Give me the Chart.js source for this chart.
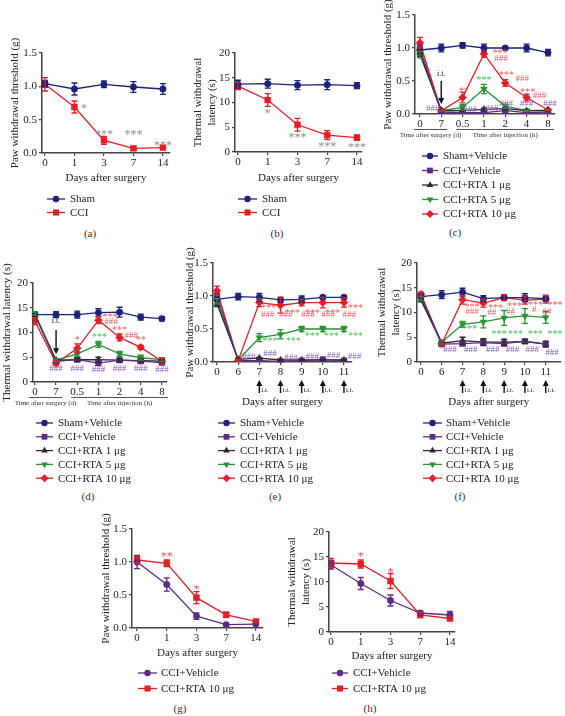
<!DOCTYPE html>
<html>
<head>
<meta charset="utf-8">
<script src="https://cdn.jsdelivr.net/npm/chart.js@4.4.0/dist/chart.umd.min.js"></script>
<style>
body { margin: 0; background: #fff; width: 565px; height: 716px; position: relative; overflow: hidden; font-family: 'Liberation Serif', serif; }
canvas { position: absolute; }
.cap { position: absolute; font-size: 11px; color: #333; transform: translate(-50%, -50%); }
</style>
</head>
<body>
<div class="cap" style="left:90px;top:233px">(a)</div>
<div class="cap" style="left:277px;top:233px">(b)</div>
<div class="cap" style="left:455px;top:232px">(c)</div>
<div class="cap" style="left:88px;top:496px">(d)</div>
<div class="cap" style="left:275px;top:496px">(e)</div>
<div class="cap" style="left:460px;top:496px">(f)</div>
<div class="cap" style="left:180px;top:708px">(g)</div>
<div class="cap" style="left:370px;top:708px">(h)</div>
<script>
// ---- Datos (a, b): Sham vs CCI ----
const daysAB = ['0', '1', '3', '7', '14'];
const shamPWT = [1.04, 0.96, 1.03, 0.99, 0.96];
const shamPWTErr = [0.05, 0.09, 0.05, 0.08, 0.08];
const cciPWT = [1.03, 0.69, 0.19, 0.07, 0.08];
const cciPWTErr = [0.10, 0.09, 0.06, 0.02, 0.02];
const shamTWL = [13.7, 13.8, 13.5, 13.6, 13.4];
const shamTWLErr = [0.8, 0.9, 0.9, 1.0, 0.6];
const cciTWL = [13.3, 10.5, 5.5, 3.4, 2.9];
const cciTWLErr = [0.7, 1.3, 1.3, 0.9, 0.5];

// ---- Datos (c, d): dosis única ----
const timesCD = ['0', '7', '0.5', '1', '2', '4', '8'];
const cSham = [0.97, 1.00, 1.04, 1.00, 1.00, 1.00, 0.93];
const cShamErr = [0.03, 0.06, 0.04, 0.06, 0.01, 0.06, 0.05];
const cCci = [1.00, 0.03, 0.02, 0.02, 0.05, 0.02, 0.03];
const cCciErr = [0.05, 0.01, 0.01, 0.01, 0.02, 0.01, 0.01];
const cRta1 = [0.92, 0.05, 0.05, 0.07, 0.08, 0.05, 0.05];
const cRta1Err = [0.05, 0.01, 0.01, 0.02, 0.02, 0.01, 0.01];
const cRta5 = [0.90, 0.05, 0.10, 0.38, 0.12, 0.05, 0.06];
const cRta5Err = [0.05, 0.01, 0.04, 0.07, 0.03, 0.01, 0.01];
const cRta10 = [1.08, 0.05, 0.25, 0.91, 0.47, 0.25, 0.06];
const cRta10Err = [0.08, 0.01, 0.08, 0.05, 0.05, 0.05, 0.01];

const dSham = [13.6, 13.6, 13.6, 14.0, 14.1, 13.1, 12.8];
const dShamErr = [0.4, 0.6, 0.7, 0.8, 1.0, 0.6, 0.4];
const dCci = [13.6, 4.2, 4.5, 3.8, 4.4, 4.2, 3.9];
const dCciErr = [0.3, 0.3, 0.3, 0.4, 0.3, 0.3, 0.3];
const dRta1 = [13.5, 4.4, 4.5, 4.5, 4.4, 4.3, 4.2];
const dRta1Err = [0.3, 0.3, 0.3, 0.5, 0.3, 0.3, 0.3];
const dRta5 = [13.8, 4.4, 5.7, 7.6, 5.7, 4.9, 4.5];
const dRta5Err = [0.3, 0.3, 0.5, 0.6, 0.5, 0.5, 0.4];
const dRta10 = [12.3, 3.8, 6.8, 12.5, 9.0, 7.0, 4.2];
const dRta10Err = [0.7, 0.5, 0.9, 0.7, 0.7, 0.4, 0.6];

// ---- Datos (e, f): dosis repetidas ----
const daysEF = ['0', '6', '7', '8', '9', '10', '11'];
const eSham = [0.95, 0.99, 0.98, 0.94, 0.95, 0.98, 0.98];
const eShamErr = [0.02, 0.05, 0.06, 0.04, 0.05, 0.02, 0.02];
const eCci = [1.00, 0.02, 0.02, 0.01, 0.02, 0.04, 0.02];
const eCciErr = [0.04, 0.01, 0.01, 0.01, 0.01, 0.01, 0.01];
const eRta1 = [0.88, 0.04, 0.06, 0.03, 0.03, 0.03, 0.03];
const eRta1Err = [0.04, 0.01, 0.01, 0.01, 0.01, 0.01, 0.01];
const eRta5 = [0.92, 0.03, 0.37, 0.42, 0.50, 0.50, 0.50];
const eRta5Err = [0.04, 0.01, 0.06, 0.07, 0.04, 0.04, 0.04];
const eRta10 = [1.08, 0.02, 0.90, 0.86, 0.90, 0.90, 0.90];
const eRta10Err = [0.07, 0.01, 0.06, 0.12, 0.05, 0.08, 0.07];

const fSham = [13.2, 13.6, 14.1, 12.8, 13.0, 13.0, 12.8];
const fShamErr = [0.3, 0.8, 0.8, 0.6, 0.5, 0.8, 0.5];
const fCci = [13.5, 3.6, 3.7, 3.9, 3.7, 4.2, 3.6];
const fCciErr = [0.3, 0.4, 0.4, 0.5, 0.4, 0.3, 0.4];
const fRta1 = [12.5, 3.8, 4.3, 4.0, 4.0, 4.1, 3.6];
const fRta1Err = [0.3, 0.4, 0.7, 0.7, 0.6, 0.4, 0.6];
const fRta5 = [12.8, 4.0, 7.6, 8.1, 8.9, 9.3, 9.0];
const fRta5Err = [0.4, 0.4, 0.6, 1.2, 1.5, 1.5, 1.2];
const fRta10 = [13.7, 3.7, 12.6, 11.9, 13.0, 12.5, 12.7];
const fRta10Err = [0.4, 0.5, 0.9, 0.8, 0.6, 0.8, 0.8];

// ---- Datos (g, h): pretratamiento ----
const gCci = [1.00, 0.66, 0.18, 0.05, 0.06];
const gCciErr = [0.10, 0.10, 0.05, 0.01, 0.01];
const gRta10 = [1.03, 0.98, 0.46, 0.20, 0.10];
const gRta10Err = [0.05, 0.05, 0.09, 0.04, 0.02];
const hCci = [13.4, 9.7, 6.3, 3.8, 3.4];
const hCciErr = [0.8, 1.2, 1.1, 0.4, 0.7];
const hRta10 = [13.8, 13.6, 10.2, 3.4, 2.7];
const hRta10Err = [0.9, 0.8, 1.5, 0.5, 0.3];

// ---- Anotaciones de significancia [x (índice), y (valor), texto] ----
const notesA = [[1.32, 0.70, '*'], [2.0, 0.31, '***'], [3.0, 0.31, '***'], [4.0, 0.15, '***']];
const notesB = [[1.0, 8.3, '*'], [2.0, 3.3, '***'], [3.0, 1.6, '***'], [4.0, 1.3, '***']];
const notesCRed = [[2.05, 0.38, '**'], [3.75, 0.95, '***'], [3.8, 0.84, '###'], [4.05, 0.62, '***'], [4.8, 0.53, '###'], [5.05, 0.36, '***'], [5.6, 0.28, '###']];
const notesCGreen = [[3.0, 0.55, '***']];
const notesCPurple = [[0.6, 0.08, '###'], [2.35, 0.07, '###'], [3.35, 0.08, '###'], [4.05, 0.16, '###'], [5.0, 0.15, '###'], [6.1, 0.15, '###']];
const notesDRed = [[2.0, 8.8, '*'], [3.55, 13.4, '***'], [3.6, 12.1, '###'], [4.0, 10.9, '***'], [4.55, 9.3, '###'], [5.0, 8.9, '**']];
const notesDGreen = [[3.05, 9.5, '***']];
const notesDPurple = [[1, 2.6, '###'], [2, 2.6, '###'], [3, 2.4, '###'], [4, 2.6, '###'], [5, 2.6, '###'], [6, 2.4, '###']];
const notesERed = [[2.45, 0.85, '***'], [3.55, 0.77, '***'], [4.5, 0.77, '***'], [5.45, 0.77, '***'], [6.55, 0.85, '***'],
                   [2.4, 0.72, '###'], [3.25, 0.72, '###'], [4.3, 0.72, '###'], [5.25, 0.72, '###'], [6.25, 0.72, '###']];
const notesEGreen = [[2.5, 0.34, '***'], [3.6, 0.34, '***'], [4.5, 0.42, '***'], [5.4, 0.42, '***'], [6.55, 0.42, '***']];
const notesEPurple = [[1.5, 0.08, '###'], [2.5, 0.12, '###'], [3.5, 0.07, '###'], [4.5, 0.08, '###'], [5.5, 0.1, '###'], [6.5, 0.08, '###']];
const notesFRed = [[2.45, 11.4, '***'], [2.45, 10.1, '###'], [3.6, 11.2, '***'], [3.4, 9.9, '##'], [4.5, 11.6, '***'], [4.3, 10.1, '##'],
                   [5.5, 11.8, '***'], [5.45, 10.5, '#'], [6.45, 11.8, '***'], [6.05, 10.1, '##']];
const notesFGreen = [[2.35, 7.1, '***'], [3.75, 6.1, '***'], [4.55, 6.1, '***'], [5.5, 6.1, '***'], [6.45, 6.1, '***']];
const notesFPurple = [[1.4, 2.4, '###'], [2.4, 2.4, '###'], [3.45, 2.4, '###'], [4.4, 2.4, '###'], [5.35, 2.4, '###'], [6.3, 1.8, '###']];
const notesG = [[1, 1.12, '**'], [2, 0.62, '*']];
const notesH = [[1, 15.6, '*'], [2, 12.4, '*']];

// ---- Colores ----
const NAVY = '#1b237a', RED = '#e41e26', PURPLE = '#5e2b84', DARK = '#2b2b2b', GREEN = '#2a9134';
const GRAY_N = '#8c8c8c', RED_N = '#f0555b', GREEN_N = '#45bf52', PURPLE_N = '#8a58bd';

Chart.defaults.font.family = "'Liberation Serif', 'Times New Roman', serif";
Chart.defaults.color = '#222';

const panelOf = new WeakMap();

function drawMarker(ctx, style, x, y, r, rot) {
    ctx.beginPath();
    if (style === 'circle') ctx.arc(x, y, r, 0, Math.PI * 2);
    else if (style === 'rect') ctx.rect(x - r * 0.72, y - r * 0.72, r * 1.44, r * 1.44);
    else if (style === 'rectRot') { ctx.moveTo(x, y - r); ctx.lineTo(x + r, y); ctx.lineTo(x, y + r); ctx.lineTo(x - r, y); ctx.closePath(); }
    else {
        const s = rot ? -1 : 1;
        ctx.moveTo(x, y - s * r); ctx.lineTo(x + r * 0.87, y + s * r * 0.5); ctx.lineTo(x - r * 0.87, y + s * r * 0.5); ctx.closePath();
    }
    ctx.fill();
}

function arrow(ctx, x, y1, y2) {
    // flecha de y1 a y2 (punta en y2)
    const d = y2 > y1 ? 1 : -1;
    ctx.beginPath(); ctx.moveTo(x, y1); ctx.lineTo(x, y2 - d * 4); ctx.stroke();
    ctx.beginPath(); ctx.moveTo(x, y2); ctx.lineTo(x - 3, y2 - d * 6); ctx.lineTo(x + 3, y2 - d * 6); ctx.closePath(); ctx.fill();
}

const extras = {
    id: 'extras',
    afterDatasetsDraw(chart) {
        const ctx = chart.ctx, xs = chart.scales.x, ys = chart.scales.y;
        // Barras de error
        chart.data.datasets.forEach(ds => {
            ctx.save();
            ctx.strokeStyle = ds.borderColor; ctx.lineWidth = 1.3;
            ds.data.forEach((p, i) => {
                const e = ds.errs[i];
                const x = xs.getPixelForValue(p.x);
                const y1 = ys.getPixelForValue(p.y - e), y2 = ys.getPixelForValue(p.y + e);
                ctx.beginPath();
                ctx.moveTo(x, y1); ctx.lineTo(x, y2);
                ctx.moveTo(x - 3, y1); ctx.lineTo(x + 3, y1);
                ctx.moveTo(x - 3, y2); ctx.lineTo(x + 3, y2);
                ctx.stroke();
            });
            ctx.restore();
        });
    },
    afterDraw(chart) {
        const p = panelOf.get(chart.canvas);
        const ctx = chart.ctx, xs = chart.scales.x, ys = chart.scales.y, area = chart.chartArea;
        ctx.save();
        // Asteriscos y almohadillas
        ctx.textAlign = 'center'; ctx.textBaseline = 'middle';
        (p.notes || []).forEach(g => {
            ctx.fillStyle = g.color;
            g.items.forEach(n => {
                const star = n[2].includes('*');
                const size = star ? (p.starSize || 10) : 9;
                ctx.font = size + "px 'Liberation Serif'";
                // el asterisco está elevado en la fuente: se baja un poco
                const dy = star ? size * 0.22 : 0;
                ctx.fillText(n[2], xs.getPixelForValue(n[0]), ys.getPixelForValue(n[1]) + dy);
            });
        });
        // Flecha i.t. dentro del gráfico
        ctx.fillStyle = '#111'; ctx.strokeStyle = '#111'; ctx.lineWidth = 1.4;
        if (p.itTop) {
            const x = xs.getPixelForValue(p.itTop[0]);
            arrow(ctx, x, ys.getPixelForValue(p.itTop[1]), ys.getPixelForValue(p.itTop[2]));
            ctx.font = "8px 'Liberation Serif'";
            ctx.fillText('i.t.', x, ys.getPixelForValue(p.itTop[3]));
        }
        // Flechas i.t. debajo del eje
        if (p.itBelow) {
            ctx.font = "7px 'Liberation Serif'"; ctx.textAlign = 'left';
            p.itBelow.forEach(i => {
                const x = xs.getPixelForValue(i);
                arrow(ctx, x, area.bottom + 31, area.bottom + 18);
                ctx.fillText('i.t.', x + 2, area.bottom + 28);
            });
        }
        // Grupos de tiempo bajo el eje x
        if (p.groups) {
            ctx.font = "7px 'Liberation Serif'"; ctx.textAlign = 'center';
            ctx.fillStyle = '#333'; ctx.strokeStyle = '#555'; ctx.lineWidth = 1;
            p.groups.forEach(g => {
                const x1 = xs.getPixelForValue(g[0]) - 6, x2 = xs.getPixelForValue(g[1]) + 6;
                ctx.beginPath(); ctx.moveTo(x1, area.bottom + 15.5); ctx.lineTo(x2, area.bottom + 15.5); ctx.stroke();
                ctx.fillText(g[2], (x1 + x2) / 2, area.bottom + 21);
            });
        }
        // Leyenda
        const lg = p.legend;
        ctx.font = "11px 'Liberation Serif'"; ctx.textAlign = 'left'; ctx.textBaseline = 'middle';
        chart.data.datasets.forEach((ds, i) => {
            const y = lg.y - p.box.y + i * lg.dy;
            const x1 = lg.x1 - p.box.x, x2 = lg.x2 - p.box.x;
            ctx.strokeStyle = ds.borderColor; ctx.fillStyle = ds.borderColor; ctx.lineWidth = 1.3;
            ctx.beginPath(); ctx.moveTo(x1, y); ctx.lineTo(x2, y); ctx.stroke();
            drawMarker(ctx, ds.pointStyle, (x1 + x2) / 2, y, ds.pointRadius, ds.pointRotation);
            ctx.fillStyle = '#222';
            ctx.fillText(ds.label, lg.tx - p.box.x, y + 0.5);
        });
        ctx.restore();
    }
};
Chart.register(extras);

function serie(label, vals, errs, color, marker, r, rot) {
    return { label, vals, errs, color, marker, r, rot: rot || 0 };
}

function buildPanel(p) {
    const cv = document.createElement('canvas');
    cv.width = p.box.w; cv.height = p.box.h;
    cv.style.left = p.box.x + 'px'; cv.style.top = p.box.y + 'px';
    document.body.appendChild(cv);
    panelOf.set(cv, p);

    const lh = 14;
    const padL = p.yTitleX - p.box.x - lh / 2;
    const yW = p.area.l - p.box.x - padL;
    const xH = p.xTitle ? p.xTitleY - p.area.b + 6.6 : 26;
    const padB = p.box.y + p.box.h - p.area.b - xH;

    const axisGrid = { drawOnChartArea: false, tickLength: 3, color: '#444', lineWidth: 1.2 };
    const axisBorder = { color: '#444', width: 1.5 };

    new Chart(cv, {
        type: 'line',
        data: {
            datasets: p.series.map(s => ({
                label: s.label,
                data: s.vals.map((v, i) => ({ x: i, y: v })),
                errs: s.errs,
                borderColor: s.color,
                backgroundColor: s.color,
                borderWidth: 1.3,
                pointStyle: s.marker,
                pointRadius: s.r,
                pointRotation: s.rot,
                pointBorderWidth: 0.5,
                tension: 0
            }))
        },
        options: {
            responsive: false,
            animation: false,
            devicePixelRatio: 1,
            layout: { padding: { left: padL, top: p.area.t - p.box.y, right: p.box.x + p.box.w - p.area.r, bottom: padB } },
            plugins: { legend: { display: false }, tooltip: { enabled: false } },
            scales: {
                x: {
                    type: 'linear', min: p.xMin, max: p.xMax,
                    afterFit: s => { s.height = xH; },
                    ticks: {
                        stepSize: 1, autoSkip: false, maxRotation: 0, includeBounds: false, padding: 1,
                        font: { size: 11 }, color: '#222',
                        callback: v => p.labels[v] ?? ''
                    },
                    grid: axisGrid, border: axisBorder,
                    title: { display: !!p.xTitle, text: p.xTitle, font: { size: 11 }, color: '#222', padding: 0 }
                },
                y: {
                    min: 0, max: p.yMax,
                    afterFit: s => { s.width = yW; },
                    ticks: {
                        stepSize: p.yStep, padding: 2, font: { size: 11 }, color: '#222',
                        callback: v => p.yDec ? v.toFixed(1) : v
                    },
                    grid: axisGrid, border: axisBorder,
                    title: { display: true, text: p.yTitle, font: { size: 11, lineHeight: lh / 11 }, color: '#222', padding: 0 }
                }
            }
        }
    });
}

const PWT = 'Paw withdrawal threshold (g)';
const TWL2 = ['Thermal withdrawal', 'latency (s)'];
const DAS = 'Days after surgery';
const groupsCD = [[0, 1, 'Time after surgery (d)'], [2, 6, 'Time after injection (h)']];

function fiveSeries(sham, shamE, cci, cciE, r1, r1E, r5, r5E, r10, r10E) {
    return [
        serie('Sham+Vehicle', sham, shamE, NAVY, 'circle', 3.2),
        serie('CCI+Vehicle', cci, cciE, PURPLE, 'rect', 4),
        serie('CCI+RTA 1 μg', r1, r1E, DARK, 'triangle', 3.8),
        serie('CCI+RTA 5 μg', r5, r5E, GREEN, 'triangle', 3.8, 180),
        serie('CCI+RTA 10 μg', r10, r10E, RED, 'rectRot', 4)
    ];
}

// (a)
buildPanel({
    box: { x: 0, y: 30, w: 185, h: 200 }, area: { l: 42, t: 53, r: 170, b: 153 },
    xMin: -0.1, xMax: 4.24, labels: daysAB, yMax: 1.5, yStep: 0.5, yDec: true,
    yTitle: PWT, yTitleX: 15, xTitle: DAS, xTitleY: 178, starSize: 12,
    series: [serie('Sham', shamPWT, shamPWTErr, NAVY, 'circle', 3.2), serie('CCI', cciPWT, cciPWTErr, RED, 'rect', 4.2)],
    notes: [{ color: GRAY_N, items: notesA }],
    legend: { x1: 47, x2: 65, tx: 70, y: 199, dy: 13.5 }
});
// (b)
buildPanel({
    box: { x: 185, y: 30, w: 185, h: 200 }, area: { l: 235, t: 53, r: 362, b: 152 },
    xMin: -0.1, xMax: 4.17, labels: daysAB, yMax: 20, yStep: 5, yDec: false,
    yTitle: TWL2, yTitleX: 198, xTitle: DAS, xTitleY: 178, starSize: 12,
    series: [serie('Sham', shamTWL, shamTWLErr, NAVY, 'circle', 3.2), serie('CCI', cciTWL, cciTWLErr, RED, 'rect', 4.2)],
    notes: [{ color: GRAY_N, items: notesB }],
    legend: { x1: 238, x2: 257, tx: 262, y: 199, dy: 13.5 }
});
// (c)
buildPanel({
    box: { x: 370, y: 0, w: 195, h: 225 }, area: { l: 415, t: 15, r: 555, b: 114 },
    xMin: -0.23, xMax: 6.33, labels: timesCD, yMax: 1.5, yStep: 0.5, yDec: true,
    yTitle: PWT, yTitleX: 388,
    series: fiveSeries(cSham, cShamErr, cCci, cCciErr, cRta1, cRta1Err, cRta5, cRta5Err, cRta10, cRta10Err),
    notes: [{ color: RED_N, items: notesCRed }, { color: GREEN_N, items: notesCGreen }, { color: PURPLE_N, items: notesCPurple }],
    itTop: [1, 0.5, 0.15, 0.6], groups: groupsCD,
    legend: { x1: 422, x2: 438, tx: 443, y: 156, dy: 14.5 }
});
// (d)
buildPanel({
    box: { x: 0, y: 260, w: 185, h: 228 }, area: { l: 33, t: 283, r: 167, b: 382 },
    xMin: -0.09, xMax: 6.24, labels: timesCD, yMax: 20, yStep: 5, yDec: false,
    yTitle: 'Thermal withdrawal latency (s)', yTitleX: 7,
    series: fiveSeries(dSham, dShamErr, dCci, dCciErr, dRta1, dRta1Err, dRta5, dRta5Err, dRta10, dRta10Err),
    notes: [{ color: RED_N, items: notesDRed }, { color: GREEN_N, items: notesDGreen }, { color: PURPLE_N, items: notesDPurple }],
    itTop: [1, 10.5, 5.6, 12.3], groups: groupsCD,
    legend: { x1: 36, x2: 53, tx: 58, y: 423, dy: 13.8 }
});
// (e)
buildPanel({
    box: { x: 185, y: 238, w: 185, h: 250 }, area: { l: 213, t: 263, r: 352, b: 362 },
    xMin: -0.19, xMax: 6.38, labels: daysEF, yMax: 1.5, yStep: 0.5, yDec: true,
    yTitle: PWT, yTitleX: 190, xTitle: DAS, xTitleY: 402,
    series: fiveSeries(eSham, eShamErr, eCci, eCciErr, eRta1, eRta1Err, eRta5, eRta5Err, eRta10, eRta10Err),
    notes: [{ color: RED_N, items: notesERed }, { color: GREEN_N, items: notesEGreen }, { color: PURPLE_N, items: notesEPurple }],
    itBelow: [2, 3, 4, 5, 6],
    legend: { x1: 218, x2: 235, tx: 240, y: 423, dy: 13.8 }
});
// (f)
buildPanel({
    box: { x: 370, y: 238, w: 195, h: 250 }, area: { l: 417, t: 263, r: 562, b: 362 },
    xMin: -0.19, xMax: 6.71, labels: daysEF, yMax: 20, yStep: 5, yDec: false,
    yTitle: TWL2, yTitleX: 382, xTitle: DAS, xTitleY: 402,
    series: fiveSeries(fSham, fShamErr, fCci, fCciErr, fRta1, fRta1Err, fRta5, fRta5Err, fRta10, fRta10Err),
    notes: [{ color: RED_N, items: notesFRed }, { color: GREEN_N, items: notesFGreen }, { color: PURPLE_N, items: notesFPurple }],
    itBelow: [2, 3, 4, 5, 6],
    legend: { x1: 423, x2: 442, tx: 446, y: 423, dy: 13.8 }
});
// (g)
buildPanel({
    box: { x: 90, y: 505, w: 190, h: 195 }, area: { l: 132, t: 529, r: 263, b: 628 },
    xMin: -0.17, xMax: 4.24, labels: daysAB, yMax: 1.5, yStep: 0.5, yDec: true,
    yTitle: PWT, yTitleX: 106, xTitle: DAS, xTitleY: 653, starSize: 12,
    series: [serie('CCI+Vehicle', gCci, gCciErr, PURPLE, 'circle', 3.2), serie('CCI+RTA 10 μg', gRta10, gRta10Err, RED, 'rect', 4.2)],
    notes: [{ color: RED_N, items: notesG }],
    legend: { x1: 138, x2: 157, tx: 161, y: 673, dy: 15.5 }
});
// (h)
buildPanel({
    box: { x: 280, y: 505, w: 190, h: 195 }, area: { l: 329, t: 532, r: 455, b: 632 },
    xMin: -0.07, xMax: 4.17, labels: daysAB, yMax: 20, yStep: 5, yDec: false,
    yTitle: TWL2, yTitleX: 292, xTitle: DAS, xTitleY: 656, starSize: 12,
    series: [serie('CCI+Vehicle', hCci, hCciErr, PURPLE, 'circle', 3.2), serie('CCI+RTA 10 μg', hRta10, hRta10Err, RED, 'rect', 4.2)],
    notes: [{ color: RED_N, items: notesH }],
    legend: { x1: 332, x2: 348, tx: 353, y: 673, dy: 15.5 }
});
</script>
</body>
</html>
